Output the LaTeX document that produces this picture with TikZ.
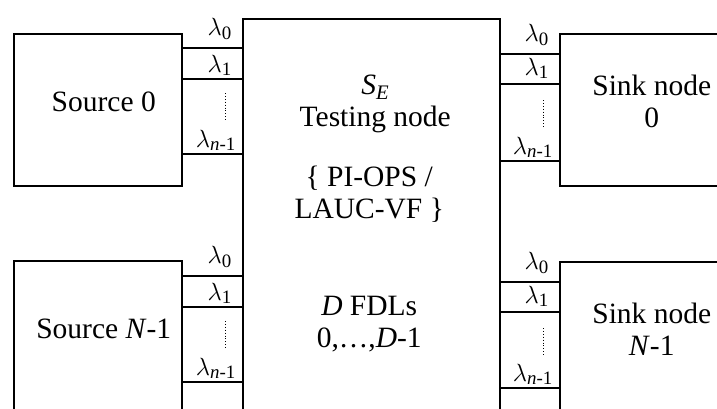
\documentclass[tikz,border=0pt]{standalone}
\usepackage{fontspec}
\setmainfont{Liberation Serif}
\usetikzlibrary{calc}
\newcommand{\wl}[1]{$\lambda$\textsubscript{#1}}
\newcommand{\body}{\fontsize{29.5}{32}\selectfont}
\newcommand{\lblfont}{\fontsize{27}{30}\selectfont}

\begin{document}
\begin{tikzpicture}[x=1pt,y=-1pt,font=\body,
  box/.style={draw,line width=1.5pt,inner sep=0,anchor=north west},
  chan/.style={line width=1.5pt},
  dotline/.style={line width=0.9pt,dotted},
  lbl/.style={anchor=base east,inner sep=0,font=\lblfont}]
\useasboundingbox (0,0) rectangle (717,408);
\clip (0,0) rectangle (717,408);
% boxes
\node[box,minimum width=168pt,minimum height=152pt] (src0) at (13,33) {};
\node[box,minimum width=168pt,minimum height=152pt] (srcN) at (13,260) {};
\node[box,minimum width=257pt,minimum height=420pt] (se) at (242,18) {};
\node[box,minimum width=184pt,minimum height=152pt] (snk0) at (559,33) {};
\node[box,minimum width=184pt,minimum height=152pt] (snkN) at (559,261) {};
% texts
\node (src0-txt) at ($(src0.center)+(6,-8)$) {Source 0};
\node (srcN-txt) at ($(srcN.center)+(6,-8)$) {Source \textit{N}-1};
\node[align=center] (snk0-txt) at ($(snk0.center)+(0,-8)$) {Sink node\\0};
\node[align=center] (snkN-txt) at ($(snkN.center)+(0,-8)$) {Sink node\\\textit{N}-1};
\node[align=center] (se-top) at ($(se.north)+(4,86)$) {\textit{S}\textsubscript{\textit{E}}\\Testing node};
\node[align=center] (se-mid) at ($(se.north)+(-2,176)$) {\{ PI-OPS /\\LAUC-VF \}};
\node[align=center] (se-bot) at ($(se.north)+(-2,306)$) {\textit{D} FDLs\\0,…,\textit{D}-1};
% source side wavelengths
\foreach \b/\pa/\pb/\pc in {src0/15/46/121, srcN/16/47/122} {
  \coordinate (\b-a) at ($(\b.north east)+(0,\pa)$);
  \coordinate (\b-b) at ($(\b.north east)+(0,\pb)$);
  \coordinate (\b-c) at ($(\b.north east)+(0,\pc)$);
  \draw[chan] (\b-a) -- (\b-a -| se.west);
  \draw[chan] (\b-b) -- (\b-b -| se.west);
  \draw[chan] (\b-c) -- (\b-c -| se.west);
  \node[lbl] (\b-l0) at ($(\b-a -| se.west)+(-10,-13)$) {\wl{0}};
  \node[lbl] (\b-l1) at ($(\b-b -| se.west)+(-10,-7)$) {\wl{1}};
  \node[lbl] (\b-ln) at ($(\b-c -| se.west)+(-6,-7)$) {\wl{\textit{n}-1}};
  \draw[dotline] ($(\b-b -| se.west)+(-17,14)$) -- ++(0,28);
}
% sink side wavelengths
\foreach \b/\pa/\pb/\pc in {snk0/21/51/128, snkN/21/51/127} {
  \coordinate (\b-a) at ($(\b.north west)+(0,\pa)$);
  \coordinate (\b-b) at ($(\b.north west)+(0,\pb)$);
  \coordinate (\b-c) at ($(\b.north west)+(0,\pc)$);
  \draw[chan] (se.east |- \b-a) -- (\b-a);
  \draw[chan] (se.east |- \b-b) -- (\b-b);
  \draw[chan] (se.east |- \b-c) -- (\b-c);
  \node[lbl] (\b-l0) at ($(\b-a)+(-10,-13)$) {\wl{0}};
  \node[lbl] (\b-l1) at ($(\b-b)+(-10,-9)$) {\wl{1}};
  \node[lbl] (\b-ln) at ($(\b-c)+(-6,-7)$) {\wl{\textit{n}-1}};
  \draw[dotline] ($(\b-b)+(-16,16)$) -- ++(0,27);
}
\end{tikzpicture}
\end{document}
